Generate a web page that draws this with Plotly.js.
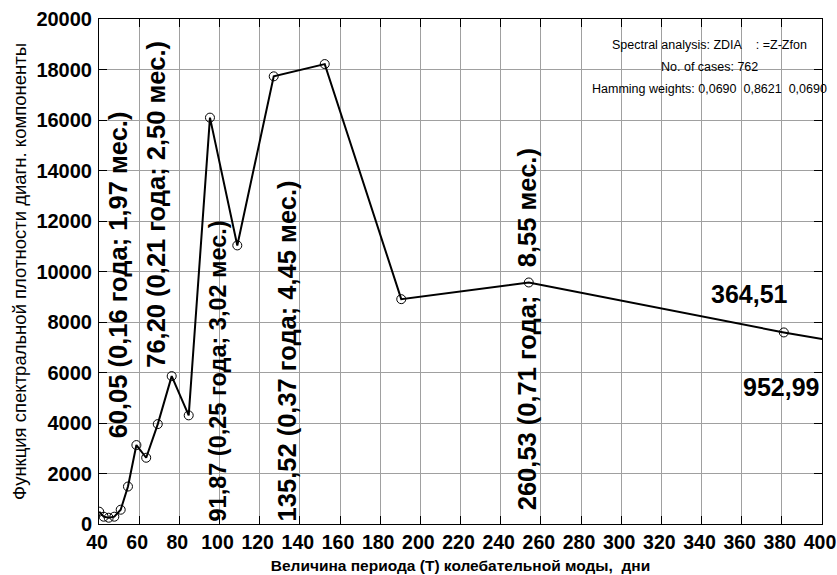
<!DOCTYPE html>
<html>
<head>
<meta charset="utf-8">
<script src="https://cdn.plot.ly/plotly-3.0.1.min.js"></script>
<style>html,body{margin:0;padding:0;background:#fff;}#chart{width:837px;height:575px;}</style>
</head>
<body>
<div id="chart"></div>
<script>
// Period of oscillation mode (days)
const periods = [40.1, 42.33, 44.82, 47.63, 50.8, 54.43, 58.62, 63.5, 69.27, 76.2, 84.67, 95.25, 108.86, 127.0, 152.4, 190.5, 254.0, 381.0, 762.0];
// Spectral density of the diagnostic component
const density = [487, 289, 249, 289, 566, 1484, 3126, 2624, 3957, 5857, 4302, 16094, 11033, 17729, 18215, 8904, 9565, 7586, 2300];

const xTicks = [40, 60, 80, 100, 120, 140, 160, 180, 200, 220, 240, 260, 280, 300, 320, 340, 360, 380, 400];
const yTicks = [0, 2000, 4000, 6000, 8000, 10000, 12000, 14000, 16000, 18000, 20000];

const peakLabels = [
  "60,05 (0,16 года; 1,97 мес.)",
  "76,20 (0,21 года; 2,50 мес.)",
  "91,87 (0,25 года; 3,02 мес.)",
  "135,52 (0,37 года; 4,45 мес.)",
  "260,53 (0,71 года;    8,55 мес.)"
];
const peakLabelX = [49.5, 68.6, 99.0, 133.8, 253.2];
const peakLabelY = [9850, 12660, 6060, 6850, 7720];
const peakLabelSize = [25.5, 25.5, 23.5, 25.5, 25.5];

const sideLabels = ["364,51", "952,99"];
const sideLabelX = [364.1, 379.6];
const sideLabelY = [9100, 5440];

const infoLines = [
  "Spectral analysis: ZDIA    : =Z-Zfon",
  "No. of cases: 762",
  "Hamming weights: 0,0690  0,8621  0,0690"
];

const FONT = "Liberation Sans, Arial, sans-serif";

const nb = s => s.replace(/ {2,}/g, m => '&nbsp;'.repeat(m.length - 1) + ' ');

const annotations = [];
peakLabels.forEach((t, i) => {
  annotations.push({
    x: peakLabelX[i], y: peakLabelY[i], xref: 'x', yref: 'y',
    text: '<b>' + nb(t) + '</b>', textangle: -90, showarrow: false,
    xanchor: 'center', yanchor: 'middle',
    font: {family: FONT, size: peakLabelSize[i], color: '#000'}
  });
});
sideLabels.forEach((t, i) => {
  annotations.push({
    x: sideLabelX[i], y: sideLabelY[i], xref: 'x', yref: 'y',
    text: '<b>' + t + '</b>', showarrow: false,
    xanchor: 'center', yanchor: 'middle',
    font: {family: FONT, size: 25, color: '#000'}
  });
});
const infoY = [0.948, 0.904, 0.861];
infoLines.forEach((t, i) => {
  annotations.push({
    x: 0.845, y: infoY[i], xref: 'paper', yref: 'paper',
    text: nb(t), showarrow: false,
    xanchor: 'center', yanchor: 'middle',
    font: {family: FONT, size: 12.5, color: '#000'}
  });
});

const trace = {
  x: periods, y: density, type: 'scatter', mode: 'lines+markers',
  line: {color: '#000', width: 2},
  marker: {symbol: 'circle-open', size: 9, color: '#000', line: {width: 1, color: '#000'}},
  hoverinfo: 'skip'
};

const layout = {
  width: 837, height: 575,
  margin: {l: 98.5, r: 14.5, t: 18.6, b: 51},
  paper_bgcolor: '#fff', plot_bgcolor: '#fff',
  showlegend: false,
  font: {family: FONT, color: '#000'},
  xaxis: {
    range: [40, 400], tickvals: xTicks, ticktext: xTicks.map(String),
    showgrid: true, gridcolor: '#a0a0a0', gridwidth: 1,
    showline: true, linecolor: '#000', linewidth: 1, mirror: 'ticks',
    ticks: 'inside', ticklen: 8, tickcolor: '#000',
    ticklabeloverflow: 'allow', ticklabelshift: -2, ticklabelstandoff: 1,
    tickfont: {family: FONT, size: 19.5, color: '#000', weight: 'bold'},
    zeroline: false,
    title: {text: '<b>Величина периода (T) колебательной моды,&nbsp; дни</b>', font: {family: FONT, size: 15.5, color: '#000'}, standoff: 7}
  },
  yaxis: {
    range: [0, 20000], tickvals: yTicks, ticktext: yTicks.map(String),
    showgrid: true, gridcolor: '#a0a0a0', gridwidth: 1,
    showline: true, linecolor: '#000', linewidth: 1, mirror: 'ticks',
    ticks: 'inside', ticklen: 8, tickcolor: '#000',
    ticklabelstandoff: 2,
    tickfont: {family: FONT, size: 20, color: '#000', weight: 'bold'},
    zeroline: false,
    title: {text: 'Функция спектральной плотности диагн. компоненты', font: {family: FONT, size: 18.5, color: '#000'}, standoff: 4}
  },
  shapes: [{
    type: 'rect', xref: 'paper', yref: 'paper', layer: 'between',
    x0: 0.672, x1: 1.0, y0: 0.849, y1: 0.983,
    fillcolor: '#fff', line: {width: 0}
  }],
  annotations: annotations
};

Plotly.newPlot('chart', [trace], layout, {staticPlot: true, displayModeBar: false});
</script>
</body>
</html>
